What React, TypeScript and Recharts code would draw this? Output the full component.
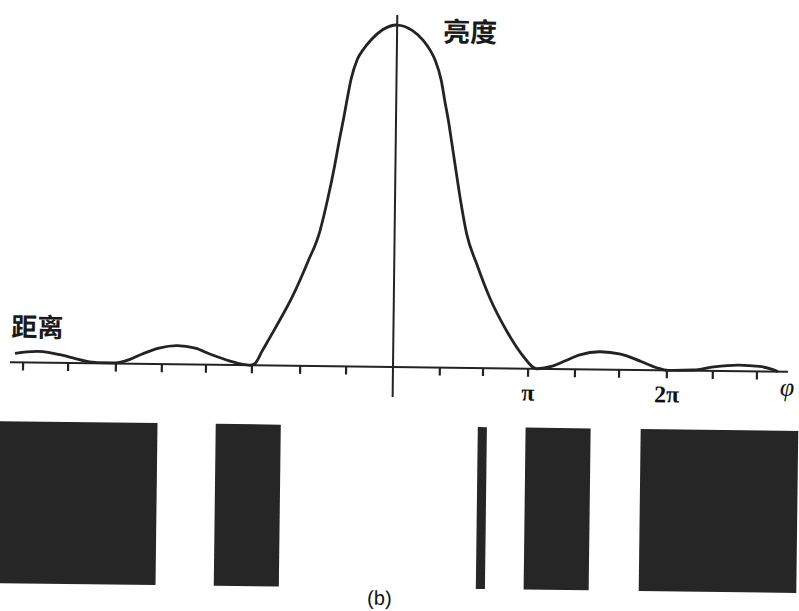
import React from "react";
import {
  ComposedChart,
  Line,
  XAxis,
  YAxis,
  ReferenceLine,
  ReferenceArea,
} from "recharts";

// phase in tick units (one tick = π/3), brightness relative to the central peak
const phase = [
  -8.31, -8.05, -7.82, -7.55, -7.32, -7.0, -6.75, -6.5, -6.1, -5.8, -5.5, -5.15,
  -4.75, -4.35, -4.0, -3.6, -3.3, -3.15, -3.03, -2.884, -2.604, -2.22, -1.901,
  -1.648, -1.481, -1.338, -1.237, -1.156, -1.08, -1.0, -0.868, -0.738, -0.567,
  -0.327, 0, 0.332, 0.576, 0.734, 0.846, 0.985, 1.065, 1.152, 1.224, 1.321,
  1.442, 1.583, 1.813, 2.11, 2.495, 2.831, 3.165, 3.5, 3.8, 4.1, 4.55, 5.0,
  5.45, 5.8, 6.05, 6.6, 7.05, 7.6, 8.05, 8.35, 8.46,
];
const brightness = [
  0.026, 0.031, 0.033, 0.03, 0.024, 0.014, 0.006, 0.002, 0.002, 0.012, 0.03,
  0.047, 0.055, 0.048, 0.03, 0.012, 0.002, 0.0, 0.006, 0.041, 0.108, 0.205,
  0.304, 0.392, 0.488, 0.585, 0.664, 0.722, 0.781, 0.839, 0.898, 0.927, 0.956,
  0.985, 1.0, 0.985, 0.956, 0.927, 0.898, 0.839, 0.781, 0.722, 0.664, 0.585,
  0.488, 0.392, 0.304, 0.205, 0.108, 0.041, 0.0, 0.008, 0.025, 0.042, 0.052,
  0.046, 0.025, 0.007, 0.0, 0.002, 0.012, 0.018, 0.015, 0.006, 0.0,
];

// hand-drawn tick marks
const tickValues = [
  -8.13, -7.14, -6.09, -5.08, -4.11, -3.1, -2.04, -1.03, 1.03, 1.98, 2.97, 4.0,
  4.97, 6.02, 7.03, 8.0,
];
const tickLabels = ["", "", "", "", "", "", "", "", "", "", "π", "", "", "2π", "", ""];

// dark fringes of pattern (b), same phase units
const fringeStart = [-8.75, -3.88, 1.88, 2.93, 5.46];
const fringeEnd = [-5.16, -2.45, 2.08, 4.36, 9.0];

const xDomain = [-8.637, 8.923];
const axisSpan = [-8.42, 8.68];
const verticalSpan = [-0.088, 1.029];
const fringeBand = [-0.646, -0.1725];

const curve = phase.map((u, i) => ({ u, value: brightness[i] }));
const fringes = fringeStart.map((start, i) => ({ start, end: fringeEnd[i] }));

const ink = "#232323";

export default function App() {
  return (
    <div
      style={{
        position: "absolute",
        left: 0,
        top: 0,
        width: 799,
        height: 611,
        overflow: "hidden",
        background: "#fff",
      }}
    >
      <div
        style={{
          position: "absolute",
          left: 0,
          top: 0,
          width: 799,
          height: 611,
          transform: "rotate(0.7deg)",
          transformOrigin: "393px 367px",
        }}
      >
        <ComposedChart
          width={799}
          height={611}
          data={curve}
          margin={{ top: 25, right: 0, bottom: 214, left: 0 }}
          style={{ overflow: "visible" }}
        >
          <XAxis
            dataKey="u"
            type="number"
            domain={xDomain}
            ticks={tickValues}
            interval={0}
            axisLine={false}
            tickSize={8}
            tickMargin={7}
            tickLine={{ stroke: ink, strokeWidth: 2.2 }}
            tickFormatter={(v) => tickLabels[tickValues.indexOf(v)] ?? ""}
            tick={{
              fill: "#111",
              fontSize: 24,
              fontFamily: "Liberation Serif",
              fontWeight: 700,
            }}
          />
          <YAxis hide type="number" domain={[0, 1]} />
          {fringes.map((f, i) => (
            <ReferenceArea
              key={i}
              x1={f.start}
              x2={f.end}
              y1={fringeBand[0]}
              y2={fringeBand[1]}
              fill="#262626"
              fillOpacity={1}
              stroke="none"
              ifOverflow="visible"
            />
          ))}
          <ReferenceLine
            segment={[
              { x: axisSpan[0], y: 0 },
              { x: axisSpan[1], y: 0 },
            ]}
            stroke={ink}
            strokeWidth={2}
            ifOverflow="visible"
          />
          <ReferenceLine
            segment={[
              { x: 0, y: verticalSpan[0] },
              { x: 0, y: verticalSpan[1] },
            ]}
            stroke={ink}
            strokeWidth={2}
            ifOverflow="visible"
          />
          <Line
            type="monotone"
            dataKey="value"
            stroke={ink}
            strokeWidth={2.8}
            dot={false}
            activeDot={false}
            isAnimationActive={false}
          />
        </ComposedChart>

        <div
          style={{
            position: "absolute",
            left: 11,
            top: 315,
            fontFamily: "Noto Sans CJK SC",
            fontWeight: 700,
            fontSize: 26,
            lineHeight: "30px",
            color: "#1a1a1a",
          }}
        >
          距离
        </div>
        <div
          style={{
            position: "absolute",
            left: 439,
            top: 15,
            fontFamily: "Noto Sans CJK SC",
            fontWeight: 700,
            fontSize: 27,
            lineHeight: "30px",
            color: "#1a1a1a",
          }}
        >
          亮度
        </div>
        <div
          style={{
            position: "absolute",
            left: 780,
            top: 368,
            fontFamily: "Liberation Serif",
            fontStyle: "italic",
            fontSize: 26,
            lineHeight: "30px",
            color: "#111",
          }}
        >
          φ
        </div>
        <div
          style={{
            position: "absolute",
            left: 370,
            top: 587,
            fontFamily: "Liberation Sans",
            fontSize: 20,
            lineHeight: "22px",
            color: "#111",
          }}
        >
          (b)
        </div>
      </div>
    </div>
  );
}
